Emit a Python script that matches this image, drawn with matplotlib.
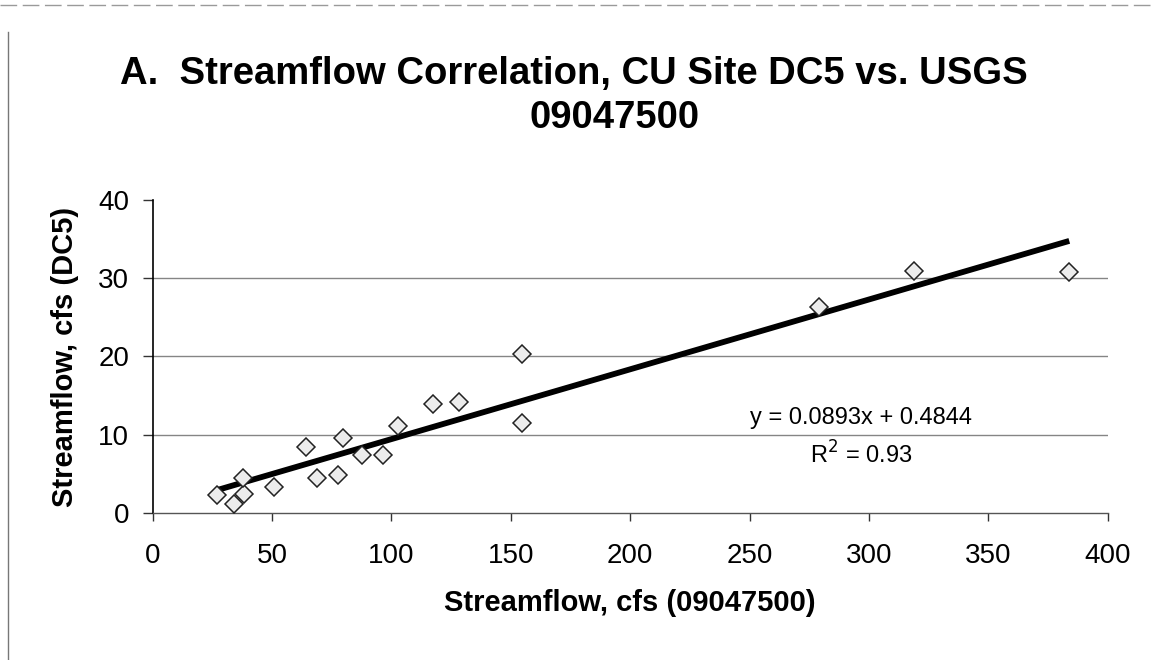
import numpy as np
import matplotlib
matplotlib.use("Agg")
import matplotlib.pyplot as plt
from matplotlib.lines import Line2D

plt.rcParams['font.family'] = ['Liberation Sans', 'DejaVu Sans']

# streamflow at USGS 09047500 (x) vs CU site DC5 (y), cfs
usgs_flow = [26.8, 34.1, 38.4, 37.7, 50.8, 64.1, 68.9, 77.7, 79.6, 87.7,
             96.6, 102.9, 117.5, 128.4, 154.6, 154.6, 279.2, 319.0, 383.9]
dc5_flow = [2.3, 1.1, 2.4, 4.5, 3.3, 8.4, 4.5, 4.8, 9.5, 7.4,
            7.4, 11.1, 13.9, 14.2, 20.3, 11.5, 26.3, 30.9, 30.8]

slope = 0.0893
intercept = 0.4844
r2 = 0.93

x_ticks = [0, 50, 100, 150, 200, 250, 300, 350, 400]
y_ticks = [0, 10, 20, 30, 40]

W, H = 1153, 660
fig = plt.figure(figsize=(W / 100, H / 100), dpi=100)

# plot area in pixels (left, right, top, bottom)
L, R, T, B = 152.7, 1107.7, 200.0, 512.7
ax = fig.add_axes([L / W, 1 - B / H, (R - L) / W, (B - T) / H])

ax.set_xlim(0, 400)
ax.set_ylim(0, 40)
ax.set_xticks(x_ticks)
ax.set_yticks(y_ticks)

for v in y_ticks[1:-1]:
    ax.axhline(v, color='#858585', lw=1.0, zorder=1)

xs = np.array(usgs_flow)
x_fit = np.array([xs.min(), xs.max()])
ax.plot(x_fit, slope * x_fit + intercept, color='black', lw=4.2,
        solid_capstyle='butt', zorder=3)

ax.plot(usgs_flow, dc5_flow, linestyle='none', marker='D', markersize=9.5,
        markerfacecolor='#ececec', markeredgecolor='#222222',
        markeredgewidth=1.1, zorder=4)

ax.text(296.7, 12.15, 'y = 0.0893x + 0.4844', fontsize=17,
        ha='center', va='center', zorder=5)
ax.text(296.7, 7.4, 'R$^2$ = %.2f' % r2, fontsize=17,
        ha='center', va='center', zorder=5)

for s in ['top', 'right']:
    ax.spines[s].set_visible(False)
ax.spines['left'].set_color('black')
ax.spines['left'].set_linewidth(1.2)
ax.spines['bottom'].set_color('#555555')
ax.spines['bottom'].set_linewidth(1.0)

ax.tick_params(axis='y', direction='out', length=7, width=1, pad=10,
               labelsize=20, color='#333333')
ax.tick_params(axis='x', direction='out', length=6, width=1, pad=16,
               labelsize=20, color='#333333')

fig.text(574 / W, 1 - 74 / H, 'A.  Streamflow Correlation, CU Site DC5 vs. USGS',
         fontsize=27.5, fontweight='bold', ha='center', va='center')
fig.text(615 / W, 1 - 118 / H, '09047500',
         fontsize=27.5, fontweight='bold', ha='center', va='center')
fig.text(630 / W, 1 - 603 / H, 'Streamflow, cfs (09047500)',
         fontsize=21, fontweight='bold', ha='center', va='center')
fig.text(65 / W, 1 - 357 / H, 'Streamflow, cfs (DC5)', rotation=90,
         fontsize=21, fontweight='bold', ha='center', va='center')

# scanned page border
fig.add_artist(Line2D([0, 1], [1 - 5 / H, 1 - 5 / H], color='#9a9a9a',
                      lw=1.0, ls=(0, (12, 4)), transform=fig.transFigure))
fig.add_artist(Line2D([8 / W, 8 / W], [0, 1 - 32 / H], color='#777777',
                      lw=1.0, transform=fig.transFigure))

fig.savefig('out.png', dpi=100)
